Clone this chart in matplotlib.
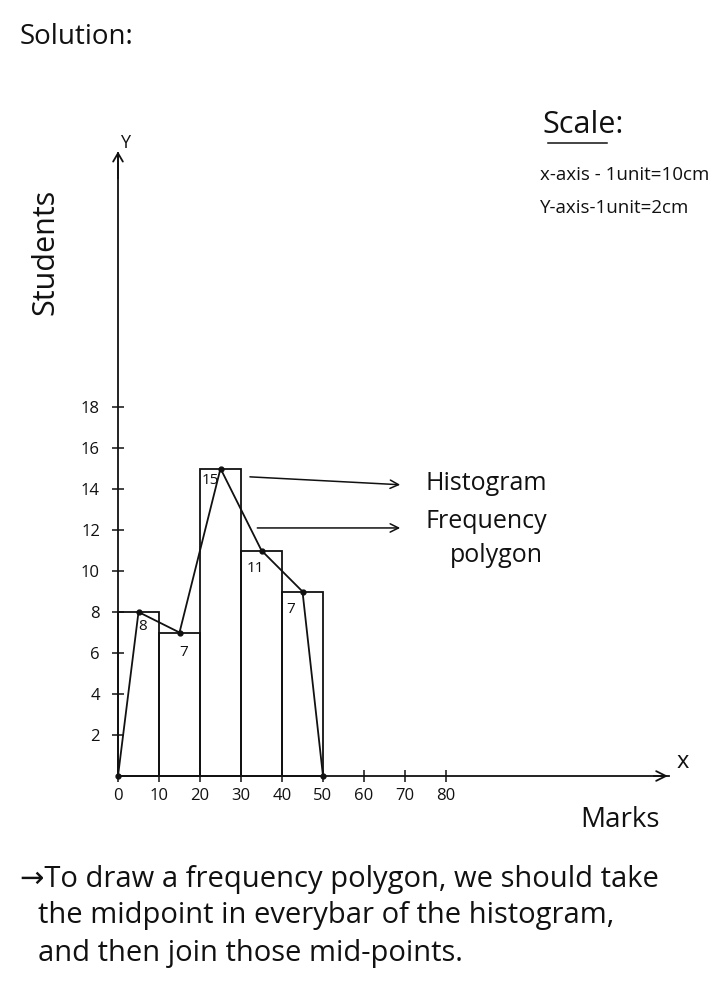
import matplotlib
matplotlib.use("Agg")
import matplotlib.pyplot as plt
import numpy as np

# ---- data ----
bin_edges = [0, 10, 20, 30, 40, 50]
frequencies = [8, 7, 15, 11, 9]
bar_labels = ["8", "7", "15", "11", "7"]
polygon_x = [0, 5, 15, 25, 35, 45, 50]
polygon_y = [0, 8, 7, 15, 11, 9, 0]
x_ticks = [0, 10, 20, 30, 40, 50, 60, 70, 80]
y_ticks = [2, 4, 6, 8, 10, 12, 14, 16, 18]

plt.rcParams['font.family'] = ['Open Sans', 'DejaVu Sans']

W, H = 720, 1006
fig = plt.figure(figsize=(W / 100, H / 100), dpi=100)
# pixel mapping: x=0 at px 118, 4.1 px per unit; y=0 at px 776 from top, 20.5 px per unit
ox, oy, sx, sy = 118, 776, 4.1, 20.5
ax = fig.add_axes([0, 0, 1, 1])
ax.set_xlim(-ox / sx, (W - ox) / sx)
ax.set_ylim(-(H - oy) / sy, oy / sy)
ax.patch.set_alpha(0)

def ftext(px, py, s, **kw):
    fig.text(px / W, 1 - py / H, s, **kw)

lw = 1.3
ink = "#111111"

# axes spines through origin
for side in ["top", "right"]:
    ax.spines[side].set_visible(False)
ax.spines["left"].set_position(("data", 0))
ax.spines["bottom"].set_position(("data", 0))
ax.spines["left"].set_bounds(0, 30.4)
ax.spines["bottom"].set_bounds(0, 134.5)
for s in ["left", "bottom"]:
    ax.spines[s].set_linewidth(lw)
    ax.spines[s].set_color(ink)

# arrow heads
ax.annotate("", xy=(0, 30.6), xytext=(0, 29.0),
            arrowprops=dict(arrowstyle="->,head_length=0.6,head_width=0.35", lw=lw, color=ink))
ax.annotate("", xy=(134.8, 0), xytext=(130, 0),
            arrowprops=dict(arrowstyle="->,head_length=0.7,head_width=0.35", lw=lw, color=ink))

ax.set_xticks(x_ticks)
ax.set_xticklabels([str(t) for t in x_ticks])
ax.set_yticks(y_ticks)
ax.set_yticklabels([str(t) for t in y_ticks])
ax.tick_params(axis="both", direction="inout", length=8, width=1.1, colors=ink,
               labelsize=12, labelcolor=ink)
ax.tick_params(axis="x", pad=5)
ax.tick_params(axis="y", pad=9)

# histogram
widths = np.diff(bin_edges)
ax.bar(bin_edges[:-1], frequencies, width=widths, align="edge",
       facecolor="none", edgecolor=ink, linewidth=lw)

# frequency polygon
ax.plot(polygon_x, polygon_y, color=ink, lw=lw, marker="o", markersize=3.5)

# bar value labels
label_offsets = [(5.0, -0.7), (5.0, -1.0), (0.5, -0.6), (1.5, -0.9), (1.0, -0.9)]
for left, f, lab, (dx, dy) in zip(bin_edges[:-1], frequencies, bar_labels, label_offsets):
    ax.text(left + dx, f + dy, lab, fontsize=11, color=ink, ha="left", va="center")

# annotation arrows
ax.annotate("", xy=(69.5, 14.2), xytext=(31.5, 14.6),
            arrowprops=dict(arrowstyle="->,head_length=0.6,head_width=0.3", lw=1.1, color=ink))
ax.annotate("", xy=(69.5, 12.1), xytext=(33.3, 12.1),
            arrowprops=dict(arrowstyle="->,head_length=0.6,head_width=0.3", lw=1.1, color=ink))
ftext(425, 483, "Histogram", fontsize=18, color=ink, va="center")
ftext(425, 521, "Frequency", fontsize=18, color=ink, va="center")
ftext(450, 555, "polygon", fontsize=18, color=ink, va="center")

# axis names
ftext(125, 143, "Y", fontsize=13, color=ink, ha="center", va="center")
ftext(45, 252, "Students", fontsize=22, color=ink, ha="center", va="center", rotation=90)
ftext(683, 762, "x", fontsize=17, color=ink, ha="center", va="center")
ftext(620, 820, "Marks", fontsize=20, color=ink, ha="center", va="center")

# header & scale
ftext(20, 37, "Solution:", fontsize=20, color=ink, va="center")
ftext(583, 125, "Scale:", fontsize=22, color=ink, ha="center", va="center")
fig.add_artist(plt.Line2D([548 / W, 607 / W], [1 - 143 / H, 1 - 143 / H], color=ink, lw=1.1))
ftext(540, 175, "x-axis - 1unit=10cm", fontsize=13.5, color=ink, va="center")
ftext(540, 208, "Y-axis-1unit=2cm", fontsize=13.5, color=ink, va="center")

# bottom note
ftext(20, 880, "\u2192To draw a frequency polygon, we should take", fontsize=21, color=ink, va="center")
ftext(38, 915, "the midpoint in everybar of the histogram,", fontsize=21, color=ink, va="center")
ftext(38, 953, "and then join those mid-points.", fontsize=21, color=ink, va="center")

fig.savefig("out.png", dpi=100)
